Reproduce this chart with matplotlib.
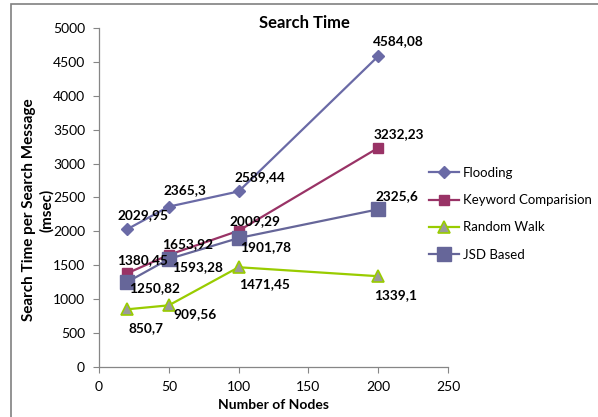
import matplotlib
matplotlib.use("Agg")
import matplotlib.pyplot as plt
from matplotlib.patches import Rectangle

nodes = [20, 50, 100, 200]
flooding = [2029.95, 2365.3, 2589.44, 4584.08]
keyword = [1380.45, 1653.92, 2009.29, 3232.23]
random_walk = [850.7, 909.56, 1471.45, 1339.1]
jsd = [1250.82, 1593.28, 1901.78, 2325.6]
series_names = ["Flooding", "Keyword Comparision", "Random Walk", "JSD Based"]
x_ticks = [0, 50, 100, 150, 200, 250]
y_ticks = [0, 500, 1000, 1500, 2000, 2500, 3000, 3500, 4000, 4500, 5000]

plt.rcParams["font.family"] = ["Lato", "DejaVu Sans"]

W, H = 598, 417
fig = plt.figure(figsize=(W / 100, H / 100), dpi=100)
ax = fig.add_axes([99 / W, 1 - 367 / H, (448 - 99) / W, (367 - 28) / H])

axis_gray = "#868686"

styles = [
    dict(color="#6A6AA6", marker="D", ms=6, mfc="#6A6AA6", mec="#6A6AA6", lw=1.6),
    dict(color="#993366", marker="s", ms=6.5, mfc="#993366", mec="#993366", lw=1.6),
    dict(color="#99CC00", marker="^", ms=8, mfc="#9A9A9A", mec="#99CC00", mew=1.2, lw=1.6),
    dict(color="#666699", marker="s", ms=10.5, mfc="#666699", mec="#666699", lw=1.6),
]
all_values = [flooding, keyword, random_walk, jsd]

# label offsets in pixels (dx, dy) for each point of each series
offsets = [
    [(16, 14), (16, 17), (21, 14), (20, 15)],
    [(16, 13), (19, 11), (16, 10), (21, 14)],
    [(19, -19), (26, -9), (26, -17), (17, -19)],
    [(28, -6), (29, -8), (27, -9), (19, 13)],
]

for name, vals, st, offs in zip(series_names, all_values, styles, offsets):
    ax.plot(nodes, vals, label=name, clip_on=False, **st)
    for x, v, (dx, dy) in zip(nodes, vals, offs):
        txt = f"{v:g}".replace(".", ",")
        ax.annotate(txt, (x, v), xytext=(dx, dy), textcoords="offset pixels",
                    ha="center", va="center", fontsize=9.8, fontweight="bold",
                    color="black")

ax.set_xlim(0, 250)
ax.set_ylim(0, 5000)
ax.set_xticks(x_ticks)
ax.set_yticks(y_ticks)
ax.tick_params(axis="both", direction="out", length=4, width=0.8, color=axis_gray,
               labelsize=10, pad=6)
for side in ["top", "right"]:
    ax.spines[side].set_visible(False)
for side in ["left", "bottom"]:
    ax.spines[side].set_color(axis_gray)
    ax.spines[side].set_linewidth(0.9)

# axis titles and chart title
fig.text(274 / W, 1 - 405 / H, "Number of Nodes", ha="center", va="center",
         fontsize=10, fontweight="bold")
fig.text(38 / W, 1 - 210 / H, "Search Time per Search Message\n(msec)",
         rotation=90, ha="center", va="center", multialignment="center",
         fontsize=11, fontweight="bold", linespacing=1.25)
fig.text(304 / W, 1 - 23 / H, "Search Time", ha="center", va="center",
         fontsize=12, fontweight="bold")

leg = fig.legend(*ax.get_legend_handles_labels(), loc="upper left",
                 bbox_to_anchor=(429 / W, 1 - 167 / H), frameon=False,
                 fontsize=9.5, handlelength=2.3, labelspacing=1.15,
                 handletextpad=0.25, borderpad=0, borderaxespad=0)

# chart border
fig.add_artist(Rectangle((11 / W, -0.2), 1.2, 1.2 - 4.5 / H, transform=fig.transFigure,
                         fill=False, edgecolor="#808080", lw=1.2))

fig.savefig("out.png", dpi=100)
